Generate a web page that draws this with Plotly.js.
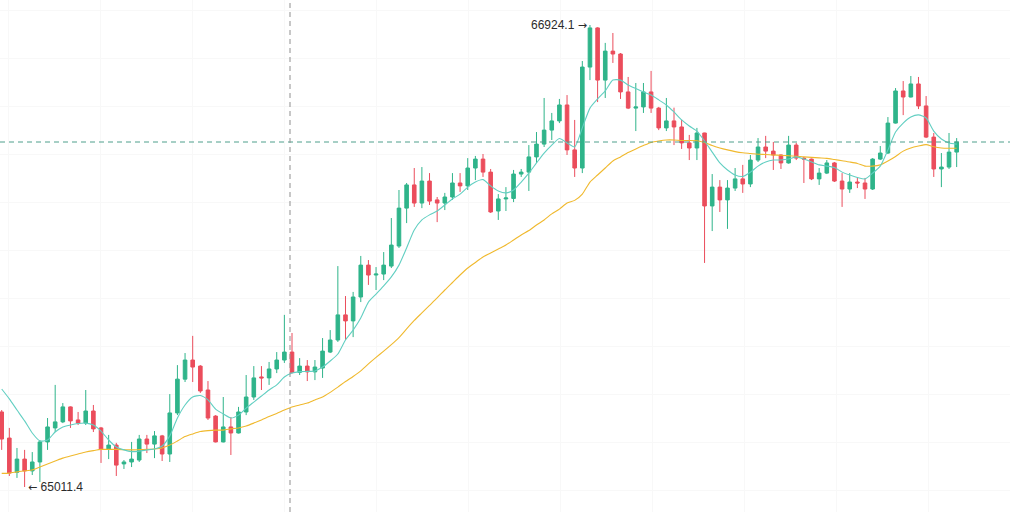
<!DOCTYPE html>
<html>
<head>
<meta charset="utf-8">
<script src="https://cdn.plot.ly/plotly-3.0.1.min.js"></script>
<style>html,body{margin:0;padding:0;background:#fff;}#chart{width:1010px;height:512px;}</style>
</head>
<body>
<div id="chart"></div>
<script>
const openP = [
65322,65214,65072,65127,65078,65115,65198,65256,65281,65343,
65289,65276,65326,65256,65169,65185,65107,65115,65123,65210,
65189,65223,65148,65318,65458,65537,65512,65413,65305,65198,
65260,65235,65322,65384,65467,65463,65500,65537,65570,65486,
65512,65488,65504,65570,65620,65724,65699,65798,65930,65889,
65893,65926,66009,66166,66262,66187,66278,66200,66187,66212,
66270,66258,66332,66369,66315,66154,66204,66206,66307,66315,
66378,66431,66489,66527,66593,66407,66332,66750,66912,66696,
66816,66804,66647,66580,66585,66647,66580,66498,66527,66502,
66436,66415,66477,66175,66253,66200,66249,66287,66266,66365,
66419,66402,66386,66353,66427,66373,66369,66287,66311,66353,
66278,66245,66274,66270,66245,66369,66394,66518,66651,66626,
66680,66589,66460,66328,66336,66398];
const highP = [
65330,65256,65173,65165,65156,65206,65297,65434,65359,65345,
65322,65413,65351,65260,65227,65194,65123,65198,65227,65227,
65243,65227,65396,65516,65566,65637,65516,65450,65309,65384,
65301,65343,65475,65512,65512,65529,65570,65724,65649,65545,
65537,65537,65628,65661,65926,65802,65819,65968,65951,65922,
65984,66125,66241,66270,66332,66336,66311,66212,66229,66311,
66311,66373,66382,66390,66328,66224,66253,66324,66328,66427,
66481,66622,66560,66618,66634,66531,66775,66924.1,66915,66850,
66891,66808,66709,66684,66684,66734,66585,66622,66582,66531,
66469,66498,66478,66307,66282,66282,66332,66345,66386,66456,
66465,66440,66388,66465,66436,66378,66371,66332,66365,66357,
66311,66311,66291,66291,66373,66423,66543,66663,66692,66713,
66709,66630,66477,66394,66477,66456];
const lowP = [
65165,65057,65049,65011.4,65061,65032,65165,65239,65276,65256,
65268,65268,65239,65111,65127,65057,65086,65094,65115,65152,
65131,65119,65115,65309,65446,65446,65401,65289,65196,65196,
65144,65233,65309,65372,65413,65434,65483,65525,65481,65475,
65450,65454,65463,65566,65612,65620,65632,65777,65848,65827,
65868,65918,66001,66104,66171,66166,66179,66108,66158,66200,
66233,66241,66282,66295,66146,66117,66154,66191,66295,66237,
66353,66419,66448,66518,66386,66295,66311,66696,66605,66622,
66767,66618,66576,66485,66560,66560,66489,66485,66427,66411,
66365,66365,65939,66071,66150,66080,66237,66229,66253,66357,
66373,66324,66328,66350,66365,66270,66282,66262,66307,66274,
66171,66229,66249,66204,66241,66365,66390,66516,66551,66624,
66576,66456,66295,66253,66328,66336];
const closeP = [
65210,65069,65127,65078,65115,65198,65260,65281,65343,65285,
65276,65326,65252,65169,65185,65102,65115,65127,65210,65189,
65223,65148,65318,65458,65537,65508,65409,65297,65198,65260,
65235,65322,65384,65463,65463,65500,65537,65570,65486,65512,
65488,65508,65574,65620,65724,65699,65798,65930,65889,65893,
65930,66013,66166,66262,66187,66278,66195,66187,66212,66270,
66258,66332,66369,66315,66150,66204,66208,66307,66315,66378,
66431,66489,66527,66593,66407,66332,66750,66912,66696,66816,
66804,66647,66580,66585,66647,66580,66498,66527,66502,66436,
66415,66477,66175,66253,66200,66249,66287,66266,66365,66419,
66402,66386,66353,66427,66373,66369,66287,66311,66353,66278,
66245,66274,66270,66245,66369,66394,66518,66651,66626,66680,
66589,66460,66328,66336,66398,66439.7];
const maFast = [
65417,65376,65330,65285,65235,65202,65206,65239,65260,65268,
65274,65276,65268,65243,65206,65177,65165,65158,65160,65165,
65169,65181,65223,65297,65351,65384,65390,65372,65334,65314,
65297,65309,65338,65363,65388,65413,65434,65467,65483,65489,
65490,65492,65508,65533,65562,65620,65661,65711,65777,65810,
65844,65881,65930,66001,66075,66117,66138,66154,66179,66204,
66224,66253,66274,66284,66258,66237,66229,66241,66274,66311,
66353,66394,66427,66454,66436,66419,66498,66580,66618,66651,
66696,66696,66676,66661,66647,66634,66614,66593,66564,66531,
66506,66485,66444,66398,66353,66324,66303,66297,66315,66340,
66357,66365,66365,66369,66378,66369,66357,66345,66340,66334,
66315,66303,66293,66287,66311,66340,66407,66481,66518,66543,
66552,66539,66485,66452,66436,66431];
const maSlow = [
65068,65069,65074,65078,65082,65094,65107,65119,65131,65140,
65148,65156,65162,65167,65167,65167,65166,65165,65166,65167,
65169,65173,65185,65202,65220,65231,65241,65245,65247,65247,
65252,65256,65264,65276,65289,65303,65316,65330,65343,65351,
65359,65372,65384,65403,65425,65448,65469,65492,65521,65548,
65574,65601,65630,65666,65701,65732,65763,65794,65827,65858,
65889,65918,65941,65964,65980,65997,66013,66034,66055,66073,
66096,66117,66142,66162,66187,66198,66224,66274,66303,66332,
66361,66378,66396,66411,66425,66438,66444,66448,66448,66446,
66446,66445,66438,66425,66415,66407,66400,66395,66392,66389,
66388,66386,66385,66383,66381,66378,66376,66374,66372,66367,
66362,66357,66351,66340,66340,66345,66361,66380,66402,66415,
66423,66429,66420,66415,66414,66414];

const idx = openP.map((_, i) => i);
const GREEN = '#2fb48a', RED = '#eb4d5c';

let hiI = 0, loI = 0;
highP.forEach((v, i) => { if (v > highP[hiI]) hiI = i; });
lowP.forEach((v, i) => { if (v < lowP[loI]) loI = i; });
const lastClose = closeP[closeP.length - 1];

const traces = [
  {type: 'scatter', mode: 'lines', x: idx, y: maSlow, line: {color: '#f0b92e', width: 1.1, shape: 'spline', smoothing: 0.6}, hoverinfo: 'skip'},
  {type: 'scatter', mode: 'lines', x: idx, y: maFast, line: {color: '#62cfc2', width: 1.1, shape: 'spline', smoothing: 0.6}, hoverinfo: 'skip'},
  {type: 'candlestick', x: idx, open: openP, high: highP, low: lowP, close: closeP,
   increasing: {line: {color: GREEN, width: 1}, fillcolor: GREEN},
   decreasing: {line: {color: RED, width: 1}, fillcolor: RED},
   whiskerwidth: 0}
];

const FONT = {family: 'Arial, Liberation Sans, sans-serif', size: 12, color: '#2b2b2b'};
const ARR = s => '<span style="font-family:DejaVu Sans;font-size:11px">' + s + '</span>';

const layout = {
  width: 1010, height: 512,
  margin: {l: 0, r: 0, t: 0, b: 0},
  paper_bgcolor: '#ffffff', plot_bgcolor: '#ffffff',
  showlegend: false,
  boxgap: 0.33,
  xaxis: {range: [-0.2225, 131.98], showticklabels: false, ticks: '', zeroline: false,
          showgrid: true, gridcolor: '#f8f8f8', tick0: 0.85, dtick: 12.04, rangeslider: {visible: false}, fixedrange: true},
  yaxis: {range: [64907.9, 67027.6], showticklabels: false, ticks: '', zeroline: false,
          showgrid: true, gridcolor: '#f8f8f8', tick0: 64999, dtick: 198.7, fixedrange: true},
  shapes: [
    {type: 'line', xref: 'paper', yref: 'y', x0: 0, x1: 1, y0: lastClose, y1: lastClose,
     line: {color: '#4f9f8c', width: 1, dash: '5px,4px'}},
    {type: 'line', xref: 'paper', yref: 'paper', x0: 290/1010, x1: 290/1010, y0: 0, y1: 1,
     line: {color: '#8f8f8f', width: 1, dash: '5px,4px'}}
  ],
  annotations: [
    {x: hiI, y: highP[hiI], xref: 'x', yref: 'y', text: highP[hiI].toFixed(1) + ' ' + ARR('→'), showarrow: false,
     xanchor: 'right', yanchor: 'middle', xshift: -1, font: FONT},
    {x: loI, y: lowP[loI], xref: 'x', yref: 'y', text: ARR('←') + ' ' + lowP[loI].toFixed(1), showarrow: false,
     xanchor: 'left', yanchor: 'middle', xshift: 1, font: FONT}
  ]
};

Plotly.newPlot('chart', traces, layout, {displayModeBar: false, staticPlot: true});
</script>
</body>
</html>
